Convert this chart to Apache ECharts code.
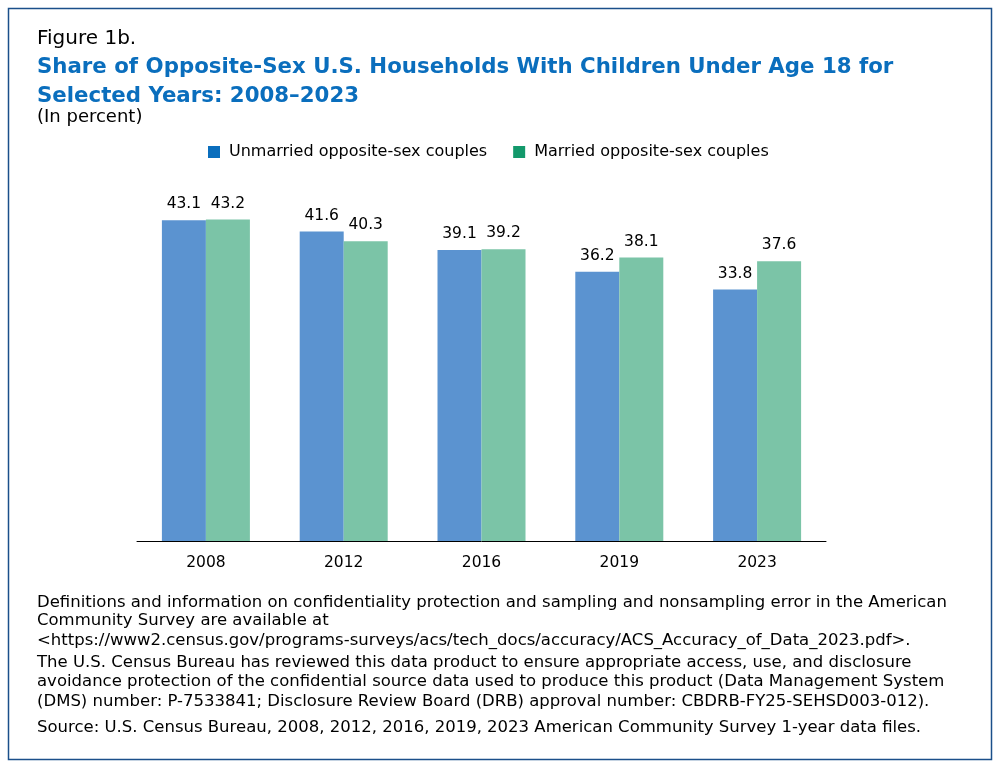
<!DOCTYPE html>
<html>
<head>
<meta charset="utf-8"/>
<script src="https://cdn.jsdelivr.net/npm/echarts@6/dist/echarts.min.js"></script>
<style>body{margin:0;background:#fff}</style>
</head>
<body>
<div id="chart" style="width:1000px;height:769px;"></div>
<script type="text/javascript">
var years = ['2008', '2012', '2016', '2019', '2023'];
var unmarried = [43.1, 41.6, 39.1, 36.2, 33.8];
var married = [43.2, 40.3, 39.2, 38.1, 37.6];
var seriesNames = ['Unmarried opposite-sex couples', 'Married opposite-sex couples'];
var notes = [
    'Definitions and information on confidentiality protection and sampling and nonsampling error in the American',
    'Community Survey are available at',
    '<https://www2.census.gov/programs-surveys/acs/tech_docs/accuracy/ACS_Accuracy_of_Data_2023.pdf>.',
    'The U.S. Census Bureau has reviewed this data product to ensure appropriate access, use, and disclosure',
    'avoidance protection of the confidential source data used to produce this product (Data Management System',
    '(DMS) number: P-7533841; Disclosure Review Board (DRB) approval number: CBDRB-FY25-SEHSD003-012).',
    'Source: U.S. Census Bureau, 2008, 2012, 2016, 2019, 2023 American Community Survey 1-year data files.'
];
var noteY = [604, 622, 642, 664, 683, 703, 729];

var font = 'DejaVu Sans';
var chart = echarts.init(document.getElementById('chart'));
var graphics = [
    {type: 'rect', shape: {x: 8.5, y: 8.5, width: 983, height: 751}, style: {fill: 'none', stroke: '#1b4f8a', lineWidth: 1.5}},
    {type: 'text', left: 37, top: 29, style: {text: 'Figure 1b.', font: '20px ' + font, fill: '#000'}},
    {type: 'text', left: 37, top: 53, style: {text: 'Share of Opposite-Sex U.S. Households With Children Under Age 18 for\nSelected Years: 2008\u20132023', font: 'bold 21.3px ' + font, lineHeight: 29, fill: '#0a6ebd'}},
    {type: 'text', left: 37, top: 108, style: {text: '(In percent)', font: '18px ' + font, fill: '#000'}}
];
for (var i = 0; i < notes.length; i++) {
    graphics.push({type: 'text', left: 37, top: noteY[i] - 10, style: {text: notes[i], font: '16.5px ' + font, fill: '#000'}});
}

var labelStyle = {show: true, position: 'top', distance: 8, color: '#000', fontSize: 15.5, fontFamily: font, formatter: function (p) { return p.value.toFixed(1); }};

chart.setOption({
    animation: false,
    textStyle: {fontFamily: font},
    graphic: graphics,
    legend: {
        top: 139, left: 203, itemGap: 26, itemWidth: 12, itemHeight: 12,
        textStyle: {fontSize: 16, color: '#000', fontFamily: font, padding: [0, 0, 0, 4]},
        data: [
            {name: seriesNames[0], icon: 'rect', itemStyle: {color: '#0a6ebd'}},
            {name: seriesNames[1], icon: 'rect', itemStyle: {color: '#13996b'}}
        ]
    },
    grid: {left: 137, right: 174, top: 169, bottom: 228},
    xAxis: {
        type: 'category', data: years,
        axisLine: {lineStyle: {color: '#000', width: 1}},
        axisTick: {show: false},
        axisLabel: {color: '#000', fontSize: 15.5, fontFamily: font, margin: 14}
    },
    yAxis: {type: 'value', min: 0, max: 50, show: false},
    series: [
        {name: seriesNames[0], type: 'bar', data: unmarried, barWidth: 44, barGap: '0%', itemStyle: {color: '#5b93d0'}, label: labelStyle},
        {name: seriesNames[1], type: 'bar', data: married, barWidth: 44, itemStyle: {color: '#7bc4a7'}, label: labelStyle}
    ]
});
</script>
</body>
</html>
